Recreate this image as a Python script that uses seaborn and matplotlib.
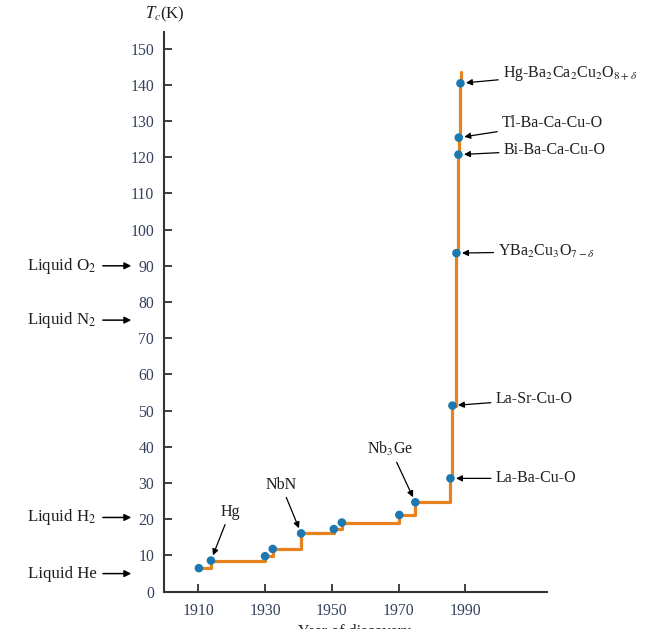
import matplotlib
matplotlib.use("Agg")
import matplotlib.pyplot as plt
import seaborn as sns
import pandas as pd

# ---------------------------------------------------------------------------
# data
# ---------------------------------------------------------------------------
years = [1910.2, 1913.8, 1930.0, 1932.3, 1940.8, 1950.6, 1953.0, 1970.2,
         1975.0, 1985.5, 1986.1, 1987.3, 1987.9, 1988.0, 1988.5]
tc = [6.5, 8.6, 9.8, 11.8, 16.1, 17.3, 19.1, 21.2,
      24.7, 31.3, 51.4, 93.5, 120.7, 125.4, 140.4]
line_end_year = 1988.6
line_end_tc = 143.5

# labelled materials: (name, index into the series above, text x, text y)
right_names = ['La-Ba-Cu-O', 'La-Sr-Cu-O', r'YBa$_2$Cu$_3$O$_{7-\delta}$',
               'Bi-Ba-Ca-Cu-O', 'Tl-Ba-Ca-Cu-O',
               r'Hg-Ba$_2$Ca$_2$Cu$_2$O$_{8+\delta}$']
right_idx = [9, 10, 11, 12, 13, 14]
right_text_x = [1999.0, 1999.0, 1999.8, 2001.4, 2000.9, 2001.2]
right_text_y = [31.3, 53.1, 93.9, 122.0, 129.4, 143.2]

left_names = ['Hg', 'NbN', r'Nb$_3$Ge']
left_idx = [1, 4, 8]
left_text_x = [1919.5, 1934.8, 1967.5]
left_text_y = [22.0, 29.5, 39.5]

liquid_names = [r'Liquid O$_2$', r'Liquid N$_2$', r'Liquid H$_2$', 'Liquid He']
liquid_tc = [90, 75, 20.5, 5]

yticks = list(range(0, 151, 10))
xticks = [1910, 1930, 1950, 1970, 1990]

# ---------------------------------------------------------------------------
sns.set_style('ticks')
plt.rcParams['font.family'] = ['Liberation Serif', 'DejaVu Serif']
plt.rcParams['mathtext.fontset'] = 'stix'

orange = '#e8821e'
blue = '#1b78b0'
tick_col = '#34405e'
text_col = '#1e1e1e'

fig = plt.figure(figsize=(6.45, 6.29), dpi=100)
ax = fig.add_axes([0.254, 0.0593, 0.594, 0.890])

line_df = pd.DataFrame({'year': years + [line_end_year], 'tc': tc + [line_end_tc]})
pts_df = pd.DataFrame({'year': years, 'tc': tc})

sns.lineplot(data=line_df, x='year', y='tc', ax=ax, color=orange, lw=2.3,
             drawstyle='steps-post', estimator=None, sort=False, zorder=2)
sns.scatterplot(data=pts_df, x='year', y='tc', ax=ax, color=blue, s=38,
                edgecolor='none', zorder=3)

ax.set_xlim(1899.7, 2014.4)
ax.set_ylim(0, 154.6)
ax.set_xticks(xticks)
ax.set_yticks(yticks)
ax.tick_params(direction='in', length=6, width=1.3, colors='#333333',
               labelcolor=tick_col, labelsize=11.3)
ax.tick_params(axis='y', pad=7)
ax.tick_params(axis='x', pad=8)
for s in ['top', 'right']:
    ax.spines[s].set_visible(False)
for s in ['left', 'bottom']:
    ax.spines[s].set_linewidth(1.5)
    ax.spines[s].set_color('#333333')
ax.set_xlabel('')
ax.set_ylabel('')

arrow = dict(arrowstyle='-|>', color='black', lw=0.9, mutation_scale=9,
             shrinkA=1, shrinkB=4)

for name, i, tx, ty in zip(right_names, right_idx, right_text_x, right_text_y):
    ax.annotate(name, xy=(years[i], tc[i]), xytext=(tx, ty),
                ha='left', va='center', fontsize=11.5, color=text_col,
                arrowprops=arrow)

for name, i, tx, ty in zip(left_names, left_idx, left_text_x, left_text_y):
    ax.annotate(name, xy=(years[i], tc[i]), xytext=(tx, ty),
                ha='center', va='center', fontsize=11.5, color=text_col,
                arrowprops=arrow)

for name, lv in zip(liquid_names, liquid_tc):
    ax.annotate(name, xy=(-0.085, lv), xycoords=('axes fraction', 'data'),
                xytext=(-0.175, lv), textcoords=('axes fraction', 'data'),
                ha='right', va='center', fontsize=12.2, color=text_col,
                annotation_clip=False,
                arrowprops=dict(arrowstyle='-|>', color='black', lw=1.1,
                                mutation_scale=10, shrinkA=2, shrinkB=0))

ax.text(0.003, 1.032, r'$T_c$(K)', transform=ax.transAxes, ha='center',
        va='center', fontsize=12, color=text_col)
fig.text(0.55, 0.008, 'Year of discovery', ha='center', va='top',
         fontsize=11.5, color=text_col)

fig.savefig('out.png', dpi=100)
